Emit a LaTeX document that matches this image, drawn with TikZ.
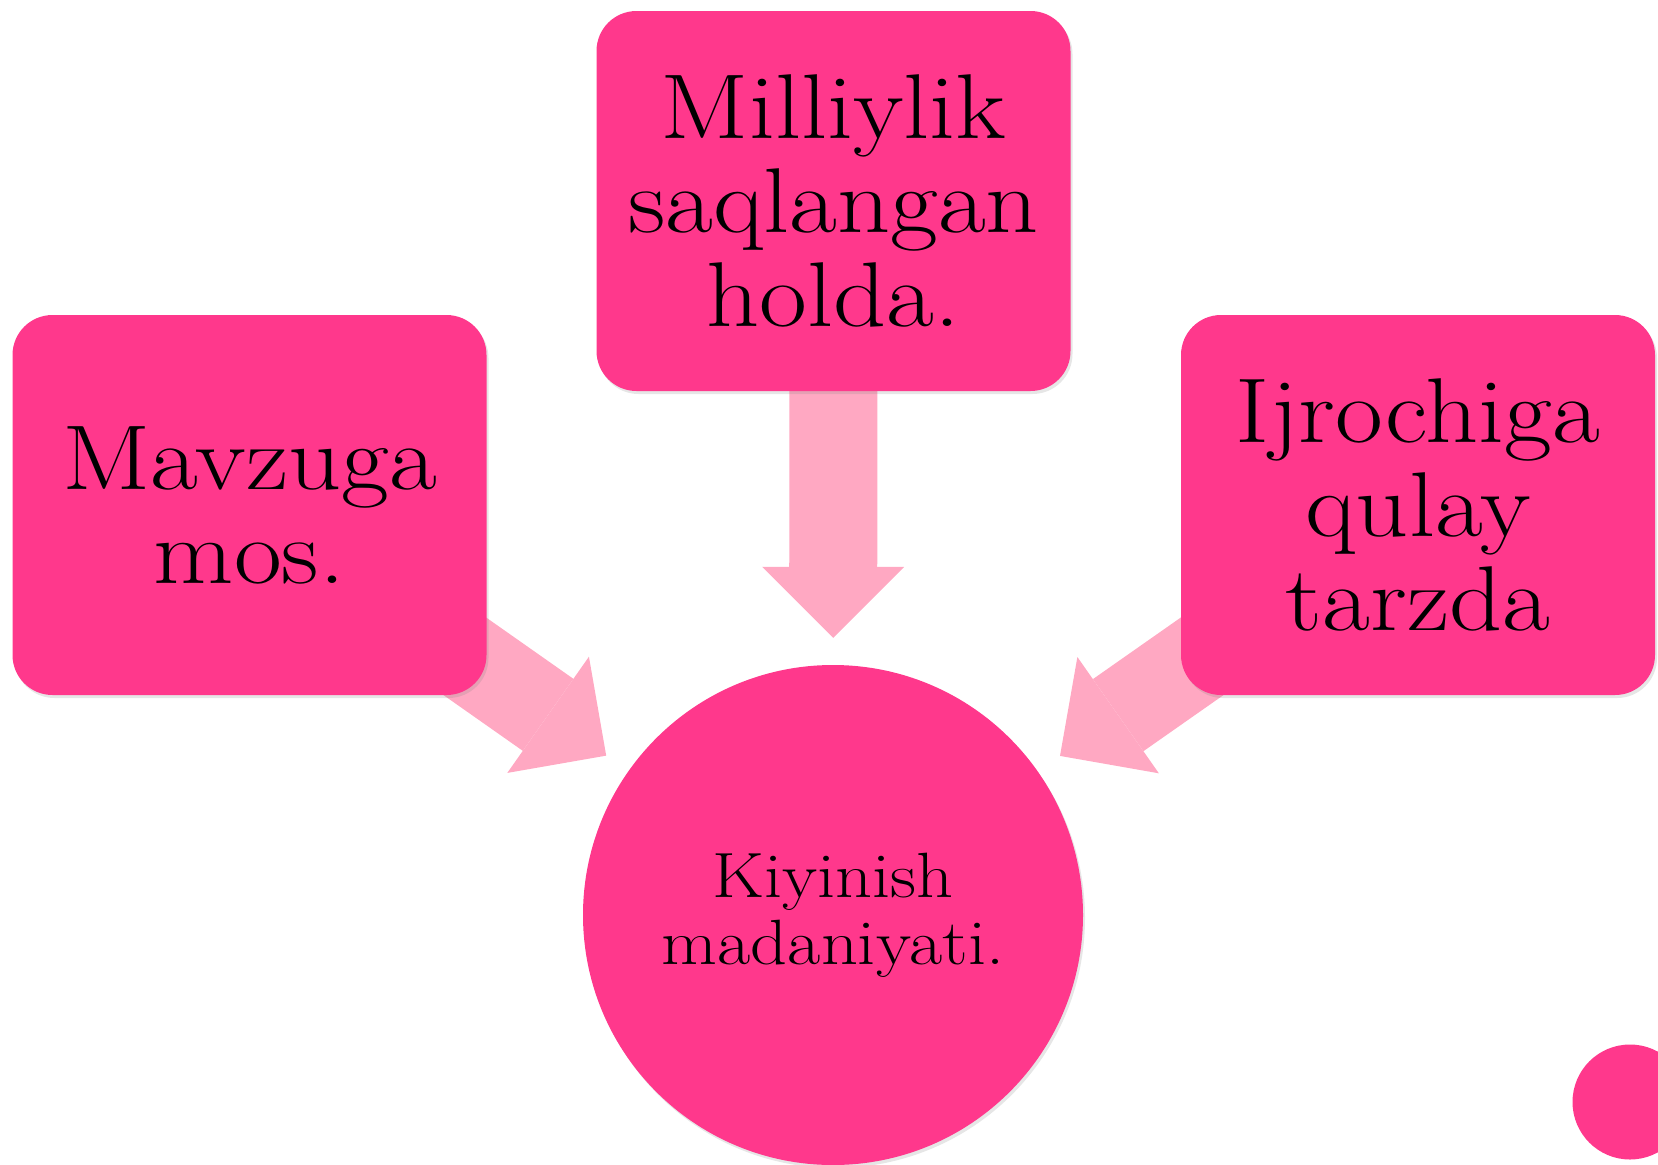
\documentclass[tikz,border=0pt]{standalone}
\usepackage{fontspec}
\setmainfont{Latin Modern Roman}[FakeStretch=1.13]
\usetikzlibrary{arrows.meta,shadows,backgrounds}
\definecolor{boxpink}{RGB}{255,56,140}
\definecolor{arrowpink}{RGB}{255,168,194}
\begin{document}
\begin{tikzpicture}[x=1pt,y=1pt]
	\tikzstyle{block} = [rectangle, fill=boxpink, minimum width=474pt, minimum height=380pt, rounded corners=40pt, inner sep=0pt, align=center, font=\fontsize{92}{94}\selectfont, drop shadow={shadow xshift=2pt, shadow yshift=-3pt, opacity=.2}];
	\tikzstyle{fat} = [draw=arrowpink, line width=88pt, -{Triangle[length=71pt,width=142pt,line width=0pt]}, shorten >=27pt];
	\useasboundingbox (0,0) rectangle (1658,-1165);
	\draw node [block] (mavzu) at (249.5,-505) {Mavzuga\\mos.};
	\draw node [block] (milliy) at (833.5,-201) {Milliylik\\saqlangan\\holda.};
	\draw node [block] (ijro) at (1418,-505) {Ijrochiga\\qulay\\tarzda};
	\draw node [circle, fill=boxpink, minimum size=500pt, inner sep=0pt, align=center, font=\fontsize{64}{67}\selectfont, drop shadow={shadow xshift=2pt, shadow yshift=-3pt, opacity=.2}] (kiyim) at (833,-915) {Kiyinish\\madaniyati.};
	\draw node [circle, fill=boxpink, minimum size=115pt, inner sep=0pt] (dot) at (1630,-1102) {};

	\begin{scope}[on background layer]
		\draw [fat] (mavzu.center) -- (kiyim);
		\draw [fat] (milliy.center) -- (kiyim);
		\draw [fat] (ijro.center) -- (kiyim);
	\end{scope}
\end{tikzpicture}
\end{document}
